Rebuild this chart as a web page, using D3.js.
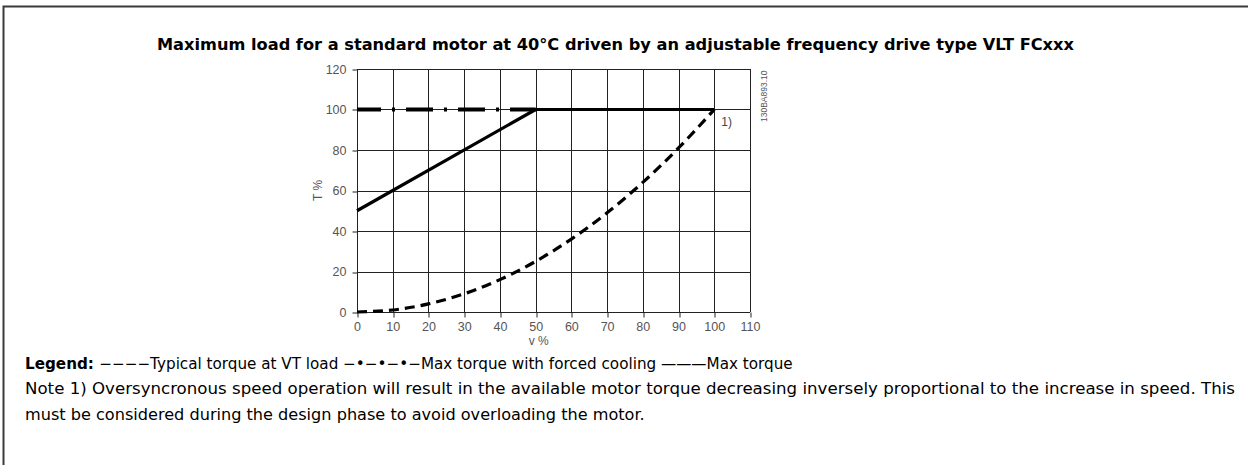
<!DOCTYPE html>
<html>
<head>
<meta charset="utf-8">
<script src="https://cdn.jsdelivr.net/npm/d3@7"></script>
<style>
  html, body { margin: 0; padding: 0; background: #fff; }
  svg { display: block; }
</style>
</head>
<body>
<svg id="chart" width="1248" height="465"></svg>
<script>
// Speed axis (v %) and torque curves (T %)
const speedTicks = [0, 10, 20, 30, 40, 50, 60, 70, 80, 90, 100, 110];
const torqueTicks = [0, 20, 40, 60, 80, 100, 120];

// Typical torque at VT load (quadratic load)
const vtSpeed  = [0, 10, 20, 30, 40, 50, 60, 70, 80, 90, 100];
const vtTorque = [0, 1, 4, 9, 16, 25, 36, 49, 64, 81, 100];

// Max torque with forced cooling
const coolSpeed  = [0, 50];
const coolTorque = [100, 100];

// Max torque
const maxSpeed  = [0, 50, 100];
const maxTorque = [50, 100, 100];

const titleText = "Maximum load for a standard motor at 40°C driven by an adjustable frequency drive type VLT FCxxx";
const noteLines = [
  "Note 1) Oversyncronous speed operation will result in the available motor torque decreasing inversely proportional to the increase in speed. This",
  "must be considered during the design phase to avoid overloading the motor."
];

const svg = d3.select("#chart");
const font = "'DejaVu Sans', Verdana, sans-serif";
const labelFont = "'Liberation Sans', Arial, sans-serif";

// Scale a text element's font size so that it spans the given width
function fitWidth(sel, width) {
  const node = sel.node();
  const size = parseFloat(sel.attr("font-size"));
  const w = node.getComputedTextLength();
  sel.attr("font-size", (size * width / w).toFixed(2));
  return sel;
}

// Frame
svg.append("path")
  .attr("d", "M3.5,465 L3.5,6.5 L1248,6.5")
  .attr("fill", "none").attr("stroke", "#3a3a3a").attr("stroke-width", 2);

// Title
fitWidth(svg.append("text")
  .attr("x", 157).attr("y", 50)
  .attr("font-family", font).attr("font-weight", "bold").attr("font-size", 13)
  .attr("fill", "#000")
  .text(titleText), 918);

// Scales
const x = d3.scaleLinear().domain([0, 110]).range([357, 750]);
const y = d3.scaleLinear().domain([0, 120]).range([312, 69]);

const g = svg.append("g");

// Grid
g.selectAll(".vgrid").data(speedTicks).enter().append("line")
  .attr("x1", d => Math.round(x(d)) + 0.5).attr("x2", d => Math.round(x(d)) + 0.5)
  .attr("y1", y(120)).attr("y2", y(0))
  .attr("stroke", "#222").attr("stroke-width", 1);
g.selectAll(".hgrid").data(torqueTicks).enter().append("line")
  .attr("y1", d => Math.round(y(d)) + 0.5).attr("y2", d => Math.round(y(d)) + 0.5)
  .attr("x1", x(0)).attr("x2", x(110))
  .attr("stroke", "#222").attr("stroke-width", 1);

// Axes
const xAxis = d3.axisBottom(x).tickValues(speedTicks).tickSize(5).tickPadding(5).tickFormat(d3.format("d"));
const yAxis = d3.axisLeft(y).tickValues(torqueTicks).tickSize(5).tickPadding(6).tickFormat(d3.format("d"));

const gx = g.append("g").attr("transform", `translate(0,${Math.round(y(0)) + 0.5})`).call(xAxis);
const gy = g.append("g").attr("transform", `translate(${Math.round(x(0)) + 0.5},0)`).call(yAxis);
[gx, gy].forEach(a => {
  a.select(".domain").remove();
  a.selectAll(".tick line").attr("stroke", "#222");
  a.selectAll(".tick text")
    .attr("fill", "#555")
    .attr("font-family", labelFont)
    .attr("font-size", 12.5);
});
gx.selectAll(".tick line").attr("transform", d => `translate(${Math.round(x(d)) + 0.5 - x(d)},0)`);
gy.selectAll(".tick line").attr("transform", d => `translate(0,${Math.round(y(d)) + 0.5 - y(d)})`);

// Axis titles
svg.append("text")
  .attr("x", x(50) + 3).attr("y", 345)
  .attr("text-anchor", "middle")
  .attr("font-family", labelFont).attr("font-size", 12)
  .attr("fill", "#555").text("v %");
svg.append("text")
  .attr("transform", `translate(322,${y(60)}) rotate(-90)`)
  .attr("text-anchor", "middle")
  .attr("font-family", labelFont).attr("font-size", 12)
  .attr("fill", "#555").text("T %");

// Curves
const line = d3.line().x(d => x(d[0])).y(d => y(d[1]));

g.append("path")
  .datum(d3.zip(vtSpeed, vtTorque))
  .attr("d", d3.line().curve(d3.curveMonotoneX).x(d => x(d[0])).y(d => y(d[1])))
  .attr("fill", "none").attr("stroke", "#000")
  .attr("stroke-width", 3.2).attr("stroke-dasharray", "10,6");

g.append("path")
  .datum(d3.zip(coolSpeed, coolTorque))
  .attr("d", line)
  .attr("fill", "none").attr("stroke", "#000")
  .attr("stroke-width", 4).attr("stroke-dasharray", "27,11,3,11")
  .attr("stroke-dashoffset", 3);

g.append("path")
  .datum(d3.zip(maxSpeed, maxTorque))
  .attr("d", line)
  .attr("fill", "none").attr("stroke", "#000")
  .attr("stroke-width", 3.2).attr("stroke-linejoin", "round");

// Note marker
svg.append("text")
  .attr("x", x(100) + 7).attr("y", y(100) + 16)
  .attr("font-family", labelFont).attr("font-size", 12)
  .attr("fill", "#444").text("1)");

// Drawing code
svg.append("text")
  .attr("transform", "translate(767,122) rotate(-90)")
  .attr("font-family", labelFont).attr("font-size", 8.5)
  .attr("fill", "#555").text("130BA893.10");

// Legend
const legend = svg.append("text")
  .attr("x", 25).attr("y", 369)
  .attr("font-family", font).attr("font-size", 13)
  .attr("fill", "#000");
legend.append("tspan").attr("font-weight", "bold").text("Legend: ");
legend.append("tspan").text("−−−−Typical torque at VT load −•−•−•−Max torque with forced cooling ———Max torque");
fitWidth(legend, 768);

// Notes
const noteWidths = [1211, 620];
noteLines.forEach((t, i) => {
  fitWidth(svg.append("text")
    .attr("x", 25).attr("y", 394 + i * 26)
    .attr("font-family", font).attr("font-size", 13)
    .attr("fill", "#000")
    .text(t), noteWidths[i]);
});
</script>
</body>
</html>
